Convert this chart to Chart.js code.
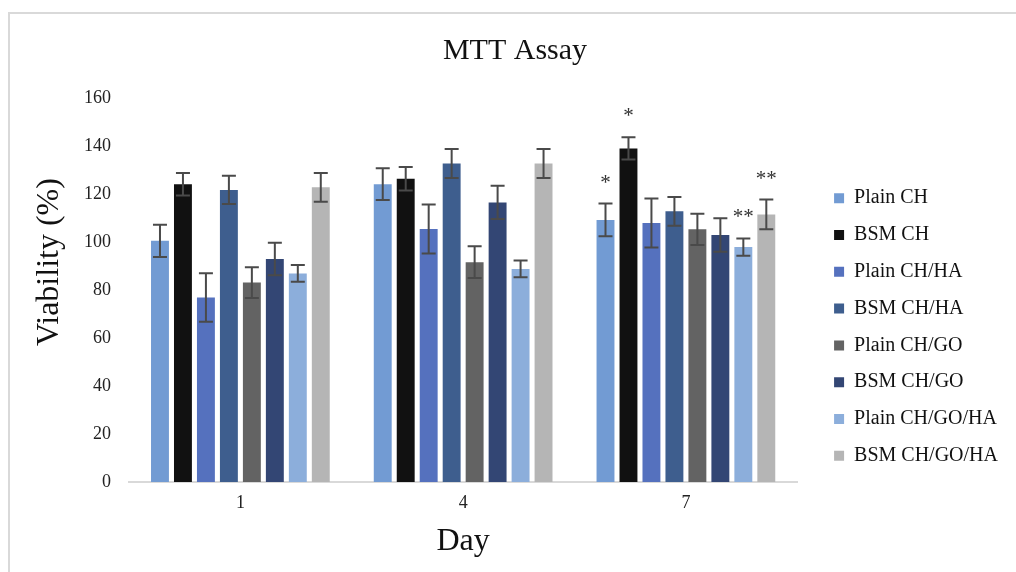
<!DOCTYPE html>
<html>
<head>
<meta charset="utf-8">
<script src="https://cdn.jsdelivr.net/npm/chart.js@4/dist/chart.umd.min.js"></script>
<style>
  html, body { margin: 0; padding: 0; background: #fff; overflow: hidden; }
  #wrap { position: relative; width: 1016px; height: 572px; }
  #frame { position: absolute; left: 8px; top: 12px; width: 1100px; height: 700px; border: 2px solid #d9d9d9; box-sizing: border-box; }
  canvas { position: absolute; left: 0; top: 0; }
</style>
</head>
<body>
<div id="wrap">
  <div id="frame"></div>
  <canvas id="mtt" width="1016" height="572"></canvas>
</div>
<script>
const days = ['1', '4', '7']
const groups = ['Plain CH', 'BSM CH', 'Plain CH/HA', 'BSM CH/HA', 'Plain CH/GO', 'BSM CH/GO', 'Plain CH/GO/HA', 'BSM CH/GO/HA']
const colors = ['#729bd3', '#111111', '#5571be', '#3e5e8e', '#636363', '#334674', '#8caedb', '#b5b5b5']

// mean viability per group, one value per day
const plainCH = [100.5, 124.1, 109.2]
const bsmCH = [124.1, 126.4, 139.0]
const plainCHHA = [76.9, 105.4, 107.9]
const bsmCHHA = [121.7, 132.7, 112.8]
const plainCHGO = [83.1, 91.6, 105.3]
const bsmCHGO = [92.9, 116.5, 102.9]
const plainCHGOHA = [86.9, 88.8, 97.9]
const bsmCHGOHA = [122.8, 132.7, 111.5]

// standard deviation
const sdPlainCH = [6.7, 6.6, 6.8]
const sdBsmCH = [4.7, 4.9, 4.6]
const sdPlainCHHA = [10.1, 10.2, 10.2]
const sdBsmCHHA = [5.9, 6.0, 6.0]
const sdPlainCHGO = [6.4, 6.6, 6.5]
const sdBsmCHGO = [6.8, 6.9, 7.0]
const sdPlainCHGOHA = [3.5, 3.5, 3.6]
const sdBsmCHGOHA = [6.0, 6.0, 6.2]

// significance marks
const sigPlainCH = ['', '', '*']
const sigBsmCH = ['', '', '*']
const sigPlainCHGOHA = ['', '', '**']
const sigBsmCHGOHA = ['', '', '**']
const none = ['', '', '']

const yTicks = [0, 20, 40, 60, 80, 100, 120, 140, 160]

const values = [plainCH, bsmCH, plainCHHA, bsmCHHA, plainCHGO, bsmCHGO, plainCHGOHA, bsmCHGOHA]
const errors = [sdPlainCH, sdBsmCH, sdPlainCHHA, sdBsmCHHA, sdPlainCHGO, sdBsmCHGO, sdPlainCHGOHA, sdBsmCHGOHA]
const marks = [sigPlainCH, sigBsmCH, none, none, none, none, sigPlainCHGOHA, sigBsmCHGOHA]

const serif = 'Liberation Serif'

const errorBars = {
  id: 'errorBars',
  afterDatasetsDraw(chart) {
    const ctx = chart.ctx
    const y = chart.scales.y
    ctx.save()
    chart.data.datasets.forEach((ds, i) => {
      const meta = chart.getDatasetMeta(i)
      meta.data.forEach((bar, j) => {
        const v = ds.data[j]
        const e = ds.sd[j]
        const top = y.getPixelForValue(v + e)
        const bot = y.getPixelForValue(v - e)
        ctx.strokeStyle = '#4a4a4a'
        ctx.lineWidth = 2
        ctx.beginPath()
        ctx.moveTo(bar.x, top); ctx.lineTo(bar.x, bot)
        ctx.moveTo(bar.x - 7, top); ctx.lineTo(bar.x + 7, top)
        ctx.moveTo(bar.x - 7, bot); ctx.lineTo(bar.x + 7, bot)
        ctx.stroke()
        const m = ds.sig[j]
        if (m) {
          ctx.fillStyle = '#333'
          ctx.font = '21px "' + serif + '"'
          ctx.textAlign = 'center'
          ctx.textBaseline = 'alphabetic'
          ctx.fillText(m, bar.x, top - 15)
        }
      })
    })
    ctx.restore()
  }
}

new Chart(document.getElementById('mtt'), {
  type: 'bar',
  data: {
    labels: days,
    datasets: groups.map((g, i) => ({
      label: g,
      data: values[i],
      sd: errors[i],
      sig: marks[i],
      backgroundColor: colors[i],
      borderWidth: 0,
      barPercentage: 0.78,
      categoryPercentage: 0.825
    }))
  },
  options: {
    responsive: false,
    animation: false,
    layout: { padding: { left: 22, right: 8, top: 0, bottom: 14 } },
    plugins: {
      title: {
        display: true,
        text: 'MTT Assay',
        color: '#111',
        font: { family: serif, size: 30, weight: 'normal', lineHeight: 1.2 },
        padding: { top: 33, bottom: 29 }
      },
      legend: {
        position: 'right',
        maxWidth: 320,
        // empty title keeps the key clear of the plot title
        title: { display: true, text: '', font: { family: serif, size: 20, lineHeight: 1 }, padding: { top: 76, bottom: 0 } },
        labels: {
          boxWidth: 10,
          boxHeight: 10,
          padding: 16.8,
          color: '#111',
          font: { family: serif, size: 20 }
        }
      },
      tooltip: { enabled: false }
    },
    scales: {
      x: {
        grid: { display: false, drawTicks: false },
        border: { display: true, color: '#d9d9d9', width: 2 },
        ticks: { color: '#222', padding: 12, font: { family: serif, size: 18, lineHeight: 1 } },
        title: {
          display: true,
          text: 'Day',
          color: '#111',
          font: { family: serif, size: 32, lineHeight: 1 },
          padding: { top: 2, bottom: 0 }
        }
      },
      y: {
        min: 0,
        max: 160,
        afterBuildTicks(scale) { scale.ticks = yTicks.map(v => ({ value: v })) },
        grid: { display: false, drawTicks: false },
        border: { display: false },
        ticks: { color: '#222', padding: 18, font: { family: serif, size: 18 } },
        title: {
          display: true,
          text: '       Viability (%)',
          color: '#111',
          font: { family: serif, size: 32, lineHeight: 1 },
          padding: { top: 12, bottom: 0 }
        }
      },
      gap: {
        position: 'right',
        type: 'linear',
        display: true,
        grid: { display: false, drawTicks: false },
        border: { display: false },
        ticks: { display: false },
        afterFit(scale) { scale.width = 20 }
      }
    }
  },
  plugins: [errorBars]
})
</script>
</body>
</html>
